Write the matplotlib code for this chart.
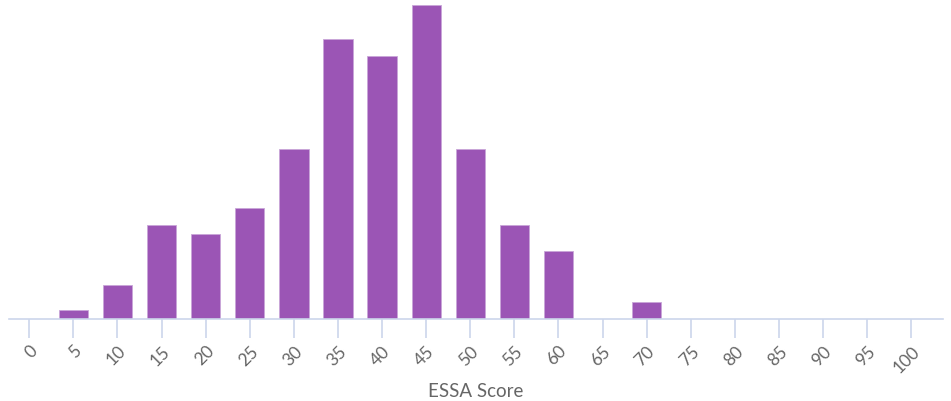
import numpy as np
import matplotlib.pyplot as plt

plt.rcParams['font.family'] = ['Lato', 'DejaVu Sans']

scores = [5, 10, 15, 20, 25, 30, 35, 40, 45, 50, 55, 60, 65, 70]
counts = [1, 4, 11, 10, 13, 20, 33, 31, 37, 20, 11, 8, 0, 2]
ticks = list(range(0, 101, 5))

fig = plt.figure(figsize=(9.51, 4.02), dpi=100)
ax = fig.add_axes([9 / 951, 1 - 319.5 / 402, 934 / 951, 319.5 / 402])

ax.bar(scores, counts, width=3.32, color='#9b55b5', edgecolor='#c9a6d8', linewidth=0.6)

ax.set_xlim(-2.3, 103.6)
ax.set_ylim(0, 37.75)
ax.set_xticks(ticks)
ax.set_xticklabels([str(t) for t in ticks], rotation=45, ha='right',
                   rotation_mode='anchor', fontsize=12.5, color='#666666')
ax.tick_params(axis='x', length=14, width=1.2, color='#ccd6eb', pad=3)
ax.set_yticks([])

for s in ['top', 'right', 'left']:
    ax.spines[s].set_visible(False)
ax.spines['bottom'].set_color('#ccd6eb')
ax.spines['bottom'].set_linewidth(1.2)

ax.set_xlabel('ESSA Score', fontsize=13.5, color='#666666', labelpad=5)

fig.savefig('out.png', dpi=100)
